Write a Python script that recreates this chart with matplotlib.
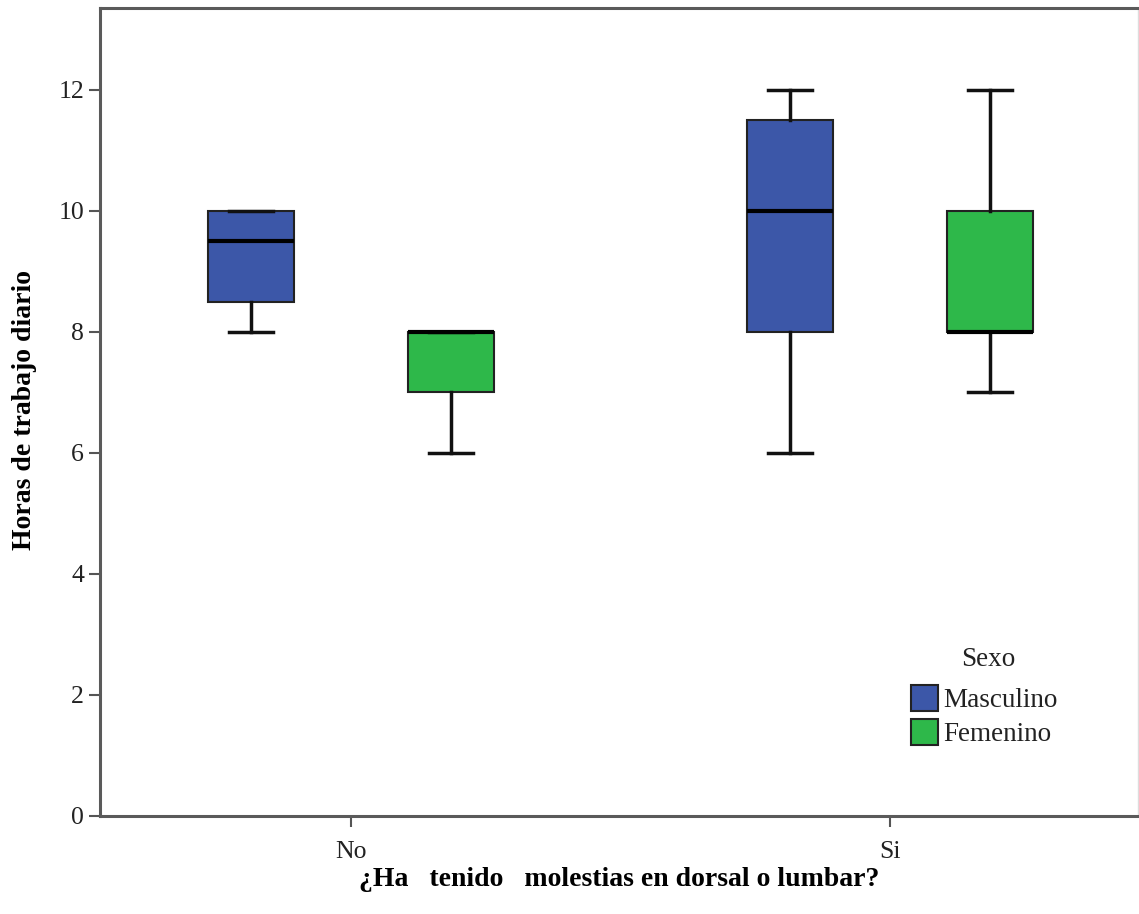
import matplotlib
matplotlib.use("Agg")
import matplotlib.pyplot as plt
from matplotlib.patches import Patch

plt.rcParams["font.family"] = ["Liberation Serif", "DejaVu Serif"]

# Data
categories = ["No", "Si"]
groups = ["Masculino", "Femenino"]
# per category: [whisker low, Q1, median, Q3, whisker high]
masculino = [[8, 8.5, 9.5, 10, 10], [6, 8, 10, 11.5, 12]]
femenino = [[6, 7, 8, 8, 8], [7, 8, 8, 10, 12]]
colors = ["#3C57A8", "#2EB84A"]


def make_stats(vals):
    lo, q1, med, q3, hi = vals
    return {"whislo": lo, "q1": q1, "med": med, "q3": q3, "whishi": hi, "fliers": []}


fig = plt.figure(figsize=(11.39, 9.14), dpi=100)
ax = fig.add_axes([100 / 1139, 1 - 816 / 914, 1038 / 1139, 808 / 914])

offset = 0.1855
width = 0.16
for g, series in enumerate([masculino, femenino]):
    pos = [i + (offset if g else -offset) for i in range(len(categories))]
    stats = [make_stats(v) for v in series]
    ax.bxp(
        stats,
        positions=pos,
        widths=width,
        capwidths=width * 0.5,
        patch_artist=True,
        showfliers=False,
        boxprops=dict(facecolor=colors[g], edgecolor="#222222", linewidth=1.5),
        whiskerprops=dict(color="#111111", linewidth=2.5),
        capprops=dict(color="#111111", linewidth=2.5),
        medianprops=dict(color="black", linewidth=3),
        manage_ticks=False,
    )

ax.set_xlim(-0.4657, 1.46)
ax.set_ylim(0, 13.35)
ax.set_xticks(range(len(categories)))
ax.set_xticklabels(categories)
ax.set_yticks(range(0, 13, 2))

for side in ["top", "left", "bottom"]:
    ax.spines[side].set_color("#5a5a5a")
    ax.spines[side].set_linewidth(2.2)
ax.spines["right"].set_color("#dddddd")
ax.spines["right"].set_linewidth(1)
ax.tick_params(axis="both", direction="out", length=8, width=1.5, color="#555555",
               labelsize=18.5, labelcolor="#222222")
ax.tick_params(axis="x", pad=10)

ax.set_xlabel("¿Ha   tenido   molestias en dorsal o lumbar?", fontsize=20,
              fontweight="bold", labelpad=3)
ax.set_ylabel("Horas de trabajo diario", fontsize=20, fontweight="bold", va="center")
ax.yaxis.set_label_coords(-75 / 1038, 0.502)

fig.text(988 / 1139, 1 - 660 / 914, "Sexo", fontsize=19.5, ha="center", va="center",
         color="#222222")
handles = [Patch(facecolor=c, edgecolor="#222222", linewidth=1.5) for c in colors]
leg = ax.legend(handles, groups, loc="upper left",
                bbox_to_anchor=(911 / 1139, 1 - 685 / 914), bbox_transform=fig.transFigure,
                frameon=False, fontsize=19.5, handlelength=1.0,
                handleheight=1.1, handletextpad=0.2, labelspacing=0.2, borderpad=0,
                borderaxespad=0)
for t in leg.get_texts():
    t.set_color("#222222")

fig.savefig("out.png", dpi=100)
